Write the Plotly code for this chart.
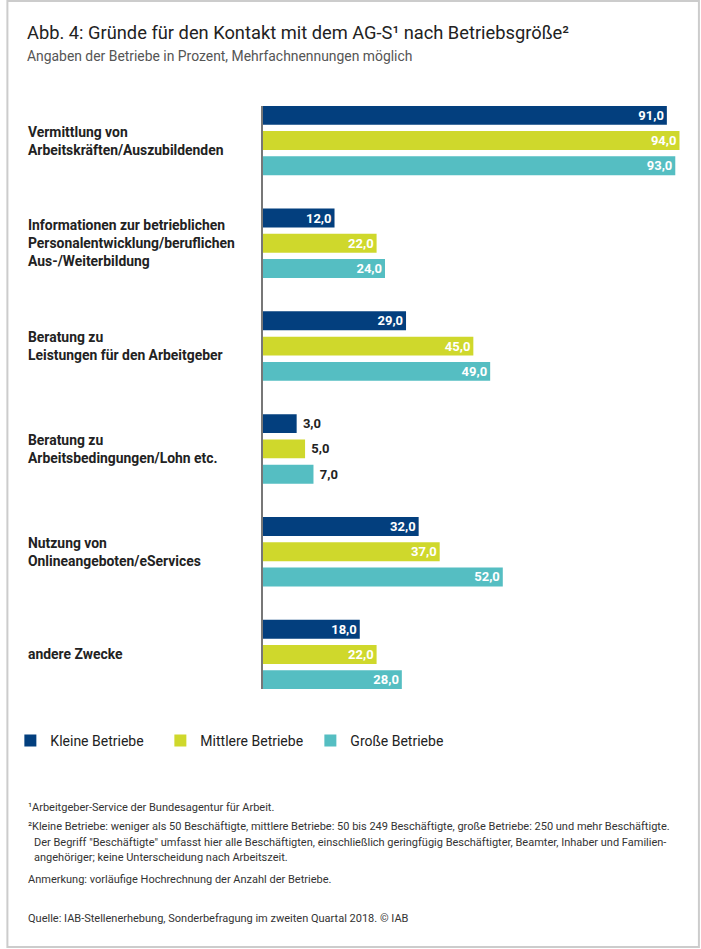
import plotly.graph_objects as go

categories = [
    "Vermittlung von<br>Arbeitskräften/Auszubildenden",
    "Informationen zur betrieblichen<br>Personalentwicklung/beruflichen<br>Aus-/Weiterbildung",
    "Beratung zu<br>Leistungen für den Arbeitgeber",
    "Beratung zu<br>Arbeitsbedingungen/Lohn etc.",
    "Nutzung von<br>Onlineangeboten/eServices",
    "andere Zwecke",
]
series_names = ["Kleine Betriebe", "Mittlere Betriebe", "Große Betriebe"]
kleine = [91.0, 12.0, 29.0, 3.0, 32.0, 18.0]
mittlere = [94.0, 22.0, 45.0, 5.0, 37.0, 22.0]
grosse = [93.0, 24.0, 49.0, 7.0, 52.0, 28.0]
colors = ["#033f7e", "#cfd82c", "#55bec2"]

AXIS_START = -5  # bars in the reference start left of zero
X_MAX = 96.5

W, H = 701, 949
L, R, T, B = 259, 11, 106, 260
PW, PH = W - L - R, H - T - B


def px(X):
    return (X - L) / PW


def py(Y):
    return (H - B - Y) / PH


fig = go.Figure()
for name, vals, col in zip(series_names, [kleine, mittlere, grosse], colors):
    fig.add_trace(go.Bar(
        name=name,
        y=list(range(len(categories))),
        x=[v - AXIS_START for v in vals],
        base=AXIS_START,
        orientation="h",
        marker=dict(color=col, line=dict(width=0)),
        text=[(f"{v:.1f}" if v >= 10 else f" {v:.1f}").replace(".", ",") for v in vals],
        textposition=["inside" if v >= 10 else "outside" for v in vals],
        insidetextanchor="end",
        textangle=0,
        constraintext="none",
        insidetextfont=dict(color="white", size=13, family="Roboto", weight="bold"),
        outsidetextfont=dict(color="#222222", size=13, family="Roboto", weight="bold"),
        cliponaxis=False,
        hoverinfo="skip",
    ))

h = 0.336
annotations = []
for i, c in enumerate(categories):
    annotations.append(dict(
        xref="paper", yref="y", x=px(20), y=i, xanchor="left", yanchor="middle",
        text=c, align="left", showarrow=False,
        font=dict(family="Roboto", size=13.9, color="#222222", weight="bold"),
    ))

annotations.append(dict(
    xref="paper", yref="paper", x=px(19), y=py(32), xanchor="left", yanchor="middle",
    text="Abb. 4: Gründe für den Kontakt mit dem AG-S¹ nach Betriebsgröße²",
    showarrow=False, font=dict(family="Roboto", size=18.3, color="#222222"),
))
annotations.append(dict(
    xref="paper", yref="paper", x=px(19), y=py(56), xanchor="left", yanchor="middle",
    text="Angaben der Betriebe in Prozent, Mehrfachnennungen möglich",
    showarrow=False, font=dict(family="Roboto", size=13.9, color="#555555"),
))

foot = [
    (20, 808, "¹Arbeitgeber-Service der Bundesagentur für Arbeit."),
    (20, 826, "²Kleine Betriebe: weniger als 50 Beschäftigte, mittlere Betriebe: 50 bis 249 Beschäftigte, große Betriebe: 250 und mehr Beschäftigte."),
    (26, 842, "Der Begriff \"Beschäftigte\" umfasst hier alle Beschäftigten, einschließlich geringfügig Beschäftigter, Beamter, Inhaber und Familien-"),
    (26, 857, "angehöriger; keine Unterscheidung nach Arbeitszeit."),
    (20, 879, "Anmerkung: vorläufige Hochrechnung der Anzahl der Betriebe."),
    (20, 918, "Quelle: IAB-Stellenerhebung, Sonderbefragung im zweiten Quartal 2018. © IAB"),
]
for x0, y0, t in foot:
    annotations.append(dict(
        xref="paper", yref="paper", x=px(x0), y=py(y0), xanchor="left", yanchor="middle",
        text=t, showarrow=False, font=dict(family="Roboto", size=11.0, color="#333333"),
    ))

fig.update_layout(
    width=W, height=H,
    margin=dict(l=L, r=R, t=T, b=B, pad=0),
    paper_bgcolor="white", plot_bgcolor="white",
    barmode="group", bargap=0.262, bargroupgap=0.25,
    separators=",.",
    showlegend=True,
    legend=dict(
        orientation="h", x=px(4), y=py(741), xanchor="left", yanchor="middle",
        font=dict(family="Roboto", size=14, color="#222222"),
        entrywidth=105, entrywidthmode="pixels", traceorder="normal",
        bgcolor="rgba(0,0,0,0)",
    ),
    xaxis=dict(range=[AXIS_START, X_MAX], visible=False, fixedrange=True),
    yaxis=dict(range=[len(categories) - 1 + h, -h], showticklabels=False, showgrid=False,
               zeroline=False, showline=True, linecolor="#777777", linewidth=2,
               ticks="", fixedrange=True),
    annotations=annotations,
    shapes=[dict(type="rect", xref="paper", yref="paper", x0=px(1), x1=px(699),
                 y0=py(947), y1=py(1), line=dict(color="#cccccc", width=2),
                 fillcolor="rgba(0,0,0,0)", layer="below")],
    font=dict(family="Roboto"),
)

fig.write_html(
    "out.html",
    config={"displayModeBar": False},
    post_script="document.body.style.margin='0';document.body.style.overflow='hidden';",
)
